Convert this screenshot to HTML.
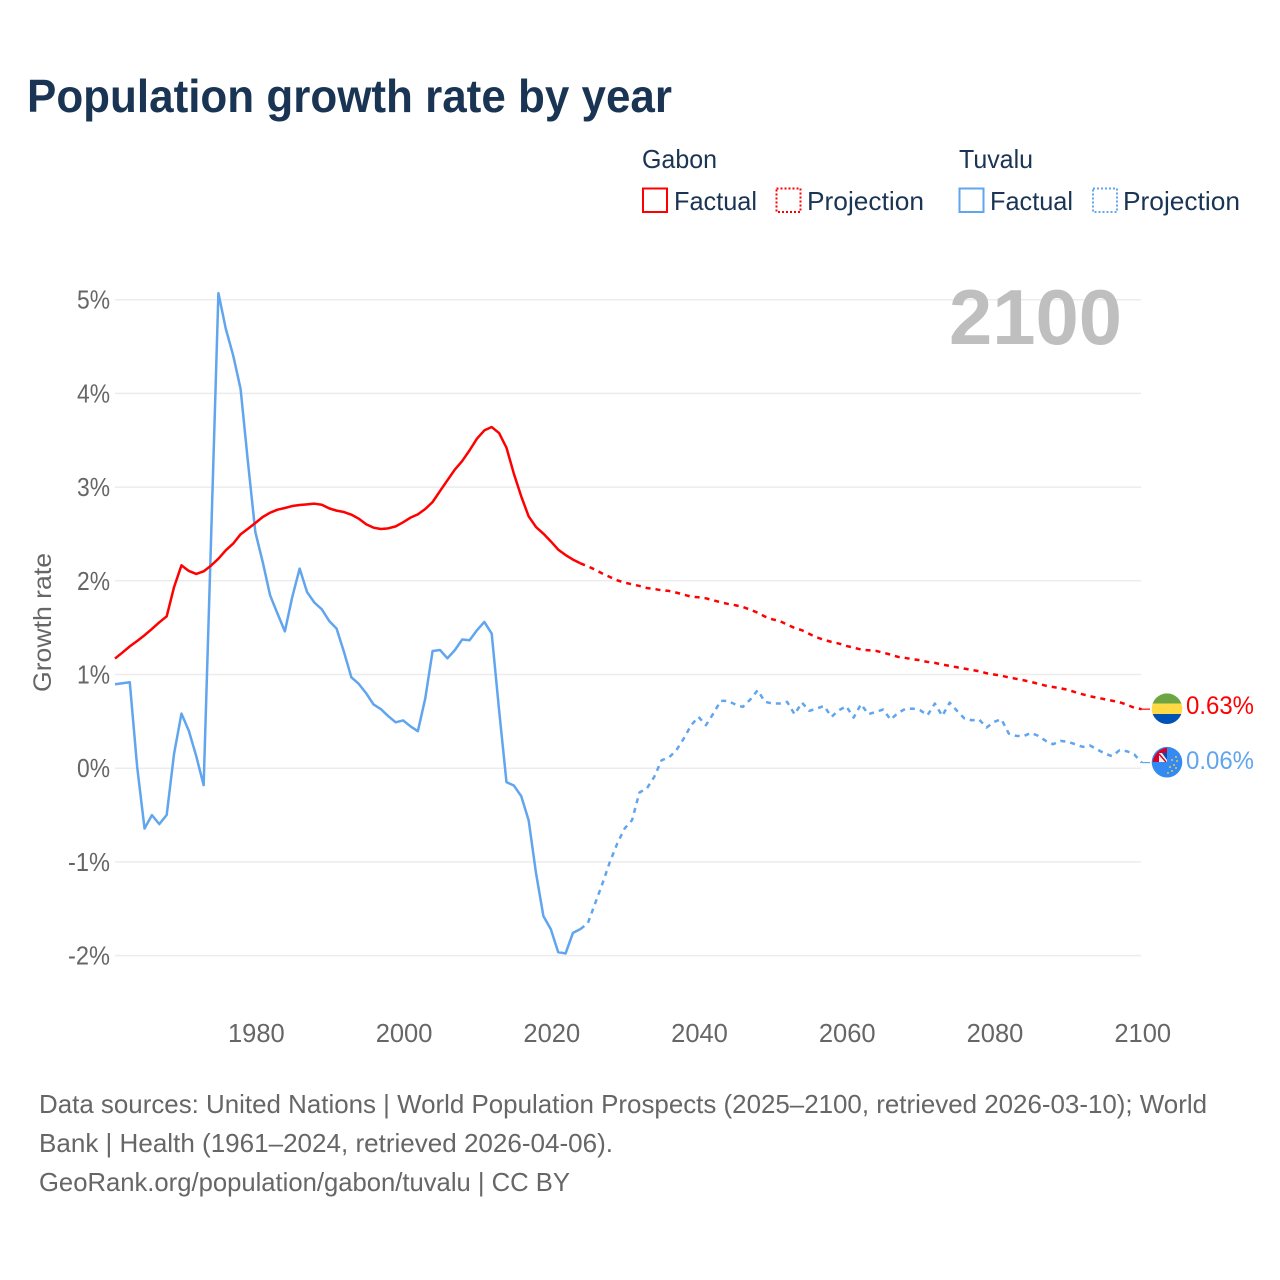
<!DOCTYPE html>
<html lang="en">
<head>
<meta charset="utf-8">
<title>Population growth rate by year</title>
<style>
html,body{margin:0;padding:0;background:#fff;}
svg{display:block;font-family:"Liberation Sans",sans-serif;}
</style>
</head>
<body>
<svg id="chart" xmlns="http://www.w3.org/2000/svg" width="1280" height="1280" viewBox="0 0 1280 1280">
  <rect x="0" y="0" width="1280" height="1280" fill="#fff"/>
  <text x="27" y="112" font-size="46" font-weight="700" fill="#1a3454" textLength="645" lengthAdjust="spacingAndGlyphs">Population growth rate by year</text>

  <g font-size="26" fill="#1a3454">
    <text x="642" y="168" textLength="75" lengthAdjust="spacingAndGlyphs">Gabon</text>
    <text x="959" y="168" textLength="74" lengthAdjust="spacingAndGlyphs">Tuvalu</text>
    <rect x="643" y="188.5" width="24" height="23.5" fill="none" stroke="#ff0000" stroke-width="2"/>
    <text x="674" y="210" textLength="83" lengthAdjust="spacingAndGlyphs">Factual</text>
    <rect x="776.5" y="188.5" width="24" height="23.5" fill="none" stroke="#ff0000" stroke-width="2" stroke-dasharray="2 2"/>
    <text x="807" y="210" textLength="117" lengthAdjust="spacingAndGlyphs">Projection</text>
    <rect x="959.5" y="188.5" width="24" height="23.5" fill="none" stroke="#60a5ee" stroke-width="2"/>
    <text x="990" y="210" textLength="83" lengthAdjust="spacingAndGlyphs">Factual</text>
    <rect x="1093" y="188.5" width="24" height="23.5" fill="none" stroke="#60a5ee" stroke-width="2" stroke-dasharray="2 2"/>
    <text x="1123" y="210" textLength="117" lengthAdjust="spacingAndGlyphs">Projection</text>
  </g>

  <g id="grid"></g>
  <g id="y-ticks" font-size="25.5" fill="#666" text-anchor="end"></g>
  <g id="x-ticks" font-size="25.5" fill="#666" text-anchor="middle"></g>
  <text transform="translate(51 622.5) rotate(-90)" font-size="25" fill="#666" text-anchor="middle" textLength="139" lengthAdjust="spacingAndGlyphs">Growth rate</text>
  <text x="949" y="344" font-size="78" font-weight="700" fill="#bfbfbf" textLength="173" lengthAdjust="spacingAndGlyphs">2100</text>

  <g id="series"></g>

  <defs>
    <clipPath id="clip-gabon"><circle cx="1167" cy="708.7" r="15.3"/></clipPath>
    <clipPath id="clip-tuvalu"><circle cx="1167" cy="762.2" r="15.3"/></clipPath>
    <clipPath id="clip-tuvalu-canton"><circle cx="1169" cy="764" r="16.5"/></clipPath>
  </defs>
  <g clip-path="url(#clip-gabon)">
    <rect x="1150" y="693" width="34" height="11" fill="#6da544"/>
    <rect x="1150" y="703.5" width="34" height="10.5" fill="#ffda44"/>
    <rect x="1150" y="714" width="34" height="11" fill="#0052b4"/>
  </g>
  <g clip-path="url(#clip-tuvalu)">
    <rect x="1150" y="746" width="34" height="33" fill="#338af3"/>
    <g clip-path="url(#clip-tuvalu-canton)">
      <rect x="1150" y="746" width="17" height="16" fill="#d80027"/>
      <rect x="1159" y="753" width="8" height="9" fill="#f0f0f0"/>
      <path d="M1162 753h5v7z" fill="#0052b4"/>
      <path d="M1159 754l7 8" stroke="#d80027" stroke-width="1.4" fill="none"/>
    </g>
    <g fill="#e8c84a">
      <circle cx="1176" cy="757" r="1"/>
      <circle cx="1172" cy="760" r="1"/>
      <circle cx="1177" cy="761" r="1"/>
      <circle cx="1174" cy="765" r="1"/>
      <circle cx="1170" cy="767" r="1"/>
      <circle cx="1176" cy="768" r="1"/>
      <circle cx="1172" cy="771" r="1"/>
      <circle cx="1168" cy="773" r="1"/>
    </g>
  </g>
  <text x="1186" y="714" font-size="25" fill="#ff0000" textLength="68" lengthAdjust="spacingAndGlyphs">0.63%</text>
  <text x="1186" y="769" font-size="25" fill="#60a5ee" textLength="68" lengthAdjust="spacingAndGlyphs">0.06%</text>

  <g font-size="26" fill="#666">
    <text x="39" y="1113" textLength="1168" lengthAdjust="spacingAndGlyphs">Data sources: United Nations | World Population Prospects (2025–2100, retrieved 2026-03-10); World</text>
    <text x="39" y="1152" textLength="574" lengthAdjust="spacingAndGlyphs">Bank | Health (1961–2024, retrieved 2026-04-06).</text>
    <text x="39" y="1191" textLength="531" lengthAdjust="spacingAndGlyphs">GeoRank.org/population/gabon/tuvalu | CC BY</text>
  </g>
</svg>
<script>
const factualStartYear = 1961;
const projectionStartYear = 2024;
const xTickLabels = [1980, 2000, 2020, 2040, 2060, 2080, 2100];
const yTickLabels = [5, 4, 3, 2, 1, 0, -1, -2];

const gabonFactual = [1.17,1.234,1.30,1.358,1.419,1.486,1.557,1.621,1.934,2.165,2.105,2.073,2.101,2.162,2.236,2.325,2.397,2.496,2.556,2.617,2.681,2.727,2.759,2.777,2.798,2.809,2.816,2.823,2.812,2.773,2.749,2.734,2.706,2.663,2.603,2.567,2.553,2.56,2.581,2.624,2.674,2.709,2.766,2.841,2.958,3.072,3.186,3.278,3.392,3.517,3.605,3.641,3.577,3.42,3.143,2.901,2.688,2.574,2.503,2.421,2.333,2.275,2.226,2.187];
const gabonProjection = [2.187,2.155,2.119,2.077,2.041,2.005,1.98,1.963,1.945,1.923,1.913,1.899,1.892,1.874,1.852,1.831,1.824,1.813,1.792,1.771,1.753,1.739,1.721,1.692,1.66,1.618,1.589,1.571,1.533,1.497,1.472,1.433,1.397,1.369,1.348,1.33,1.305,1.287,1.266,1.259,1.252,1.234,1.212,1.188,1.177,1.163,1.152,1.134,1.124,1.106,1.092,1.077,1.063,1.049,1.035,1.013,1.0,0.987,0.969,0.954,0.939,0.921,0.901,0.881,0.867,0.853,0.837,0.811,0.789,0.768,0.752,0.736,0.72,0.704,0.677,0.645,0.63];
const tuvaluFactual = [0.896,0.907,0.917,0.014,-0.644,-0.501,-0.597,-0.498,0.156,0.583,0.398,0.128,-0.181,2.43,5.07,4.69,4.405,4.05,3.267,2.52,2.2,1.845,1.65,1.46,1.828,2.13,1.88,1.767,1.696,1.571,1.49,1.24,0.97,0.9,0.8,0.68,0.63,0.555,0.49,0.51,0.447,0.395,0.743,1.251,1.262,1.173,1.259,1.373,1.365,1.472,1.561,1.437,0.619,-0.149,-0.185,-0.299,-0.555,-1.12,-1.579,-1.717,-1.963,-1.977,-1.757,-1.717];
const tuvaluProjection = [-1.717,-1.657,-1.443,-1.23,-1.0,-0.803,-0.643,-0.555,-0.259,-0.217,-0.093,0.085,0.114,0.192,0.316,0.459,0.548,0.459,0.583,0.718,0.718,0.679,0.654,0.732,0.832,0.708,0.69,0.69,0.708,0.576,0.7,0.612,0.636,0.665,0.548,0.619,0.661,0.54,0.683,0.576,0.601,0.626,0.519,0.59,0.633,0.636,0.619,0.565,0.69,0.558,0.7,0.612,0.53,0.512,0.519,0.434,0.494,0.523,0.37,0.345,0.341,0.377,0.345,0.292,0.256,0.292,0.281,0.256,0.228,0.242,0.199,0.156,0.128,0.192,0.181,0.146,0.06];

const NS = 'http://www.w3.org/2000/svg';
function xScale(year) { return 115 + (year - 1961) * (1141.7 - 115) / 139; }
function yScale(value) { return 768.2 - value * 93.7; }
function linePoints(values, startYear) {
  return values.map(function (v, i) {
    return xScale(startYear + i).toFixed(2) + ',' + yScale(v).toFixed(2);
  }).join(' ');
}

const gridGroup = document.getElementById('grid');
const yTickGroup = document.getElementById('y-ticks');
const xTickGroup = document.getElementById('x-ticks');
const seriesGroup = document.getElementById('series');

yTickLabels.forEach(function (tick) {
  const line = document.createElementNS(NS, 'line');
  
  
  line.setAttribute('x1', 115);
  line.setAttribute('x2', 1141);
  line.setAttribute('y1', yScale(tick));
  line.setAttribute('y2', yScale(tick));
  line.setAttribute('stroke', '#ececec');
  line.setAttribute('stroke-width', '1.5');
  gridGroup.appendChild(line);

  const label = document.createElementNS(NS, 'text');
  
  
  label.setAttribute('x', 110);
  label.setAttribute('y', yScale(tick) + 9);
  label.setAttribute('textLength', tick < 0 ? 42 : 33);
  label.setAttribute('lengthAdjust', 'spacingAndGlyphs');
  label.textContent = tick + '%';
  yTickGroup.appendChild(label);
});

xTickLabels.forEach(function (tick) {
  const label = document.createElementNS(NS, 'text');
  
  
  label.setAttribute('x', xScale(tick) + 1);
  label.setAttribute('y', 1042);
  label.textContent = tick;
  xTickGroup.appendChild(label);
});

function drawLine(name, values, startYear, color, dashed) {
  const line = document.createElementNS(NS, 'polyline');
  
  
  line.setAttribute('points', linePoints(values, startYear));
  line.setAttribute('fill', 'none');
  line.setAttribute('stroke', color);
  line.setAttribute('stroke-width', '2.5');
  line.setAttribute('stroke-linejoin', 'round');
  if (dashed) {
    line.setAttribute('stroke-dasharray', '5 5');
  }
  seriesGroup.appendChild(line);
}

drawLine('tuvalu-factual-line', tuvaluFactual, factualStartYear, '#60a5ee', false);
drawLine('tuvalu-projection-line', tuvaluProjection, projectionStartYear, '#60a5ee', true);
drawLine('gabon-factual-line', gabonFactual, factualStartYear, '#ff0000', false);
drawLine('gabon-projection-line', gabonProjection, projectionStartYear, '#ff0000', true);

const gabonConnector = document.createElementNS(NS, 'line');


gabonConnector.setAttribute('x1', xScale(2100));
gabonConnector.setAttribute('x2', 1150);
gabonConnector.setAttribute('y1', yScale(gabonProjection[gabonProjection.length - 1]));
gabonConnector.setAttribute('y2', yScale(gabonProjection[gabonProjection.length - 1]));
gabonConnector.setAttribute('stroke', '#ff0000');
gabonConnector.setAttribute('stroke-width', '1.2');
seriesGroup.appendChild(gabonConnector);

const tuvaluConnector = document.createElementNS(NS, 'line');


tuvaluConnector.setAttribute('x1', xScale(2100));
tuvaluConnector.setAttribute('x2', 1150);
tuvaluConnector.setAttribute('y1', yScale(tuvaluProjection[tuvaluProjection.length - 1]));
tuvaluConnector.setAttribute('y2', yScale(tuvaluProjection[tuvaluProjection.length - 1]));
tuvaluConnector.setAttribute('stroke', '#60a5ee');
tuvaluConnector.setAttribute('stroke-width', '1.2');
seriesGroup.appendChild(tuvaluConnector);
</script>
</body>
</html>
